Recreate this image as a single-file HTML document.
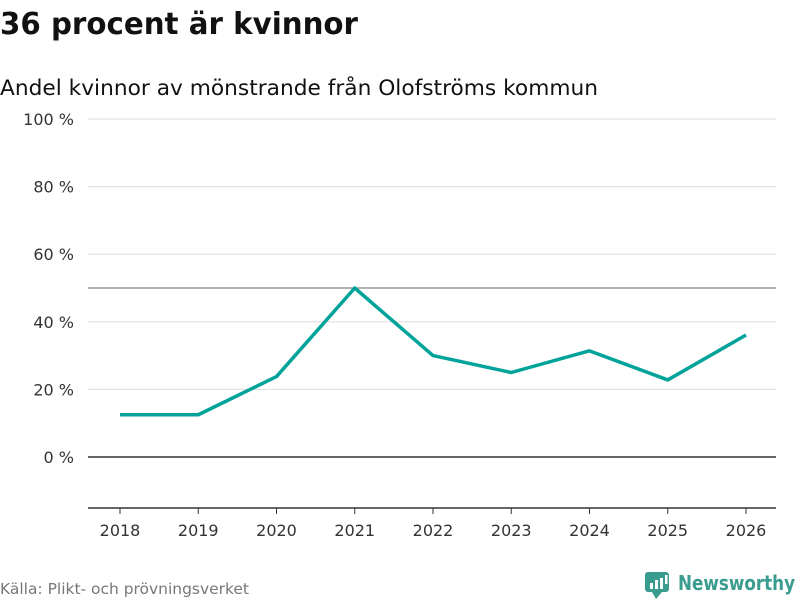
<!DOCTYPE html>
<html><head><meta charset="utf-8"><style>
body{margin:0;background:#fff;font-family:"DejaVu Sans","Liberation Sans",sans-serif;}
</style></head><body>
<svg width="800" height="600" xmlns="http://www.w3.org/2000/svg">
<text x="0" y="34" font-size="30" font-weight="bold" fill="#111" textLength="358" lengthAdjust="spacingAndGlyphs">36 procent är kvinnor</text>
<text x="0" y="95" font-size="21" fill="#111" textLength="598" lengthAdjust="spacingAndGlyphs">Andel kvinnor av mönstrande från Olofströms kommun</text>
<g id="grid"></g>
<g id="xaxis"></g>
<path id="line" fill="none" stroke="#00a399" stroke-width="3.5" stroke-linejoin="round"/>
<text x="0" y="594" font-size="15" fill="#777" textLength="249" lengthAdjust="spacingAndGlyphs">Källa: Plikt- och prövningsverket</text>
<g>
<rect x="645" y="572" width="24" height="20" rx="3" fill="#3a9c8f"/>
<polygon points="652,592 662,592 656,599" fill="#3a9c8f"/>
<rect x="650" y="583" width="3" height="6" fill="#fff"/><rect x="655" y="580" width="3" height="9" fill="#fff"/><rect x="660" y="578" width="3" height="11" fill="#fff"/><rect x="665" y="575" width="2.5" height="9" fill="#fff"/>
<text x="678" y="590" font-size="20" font-weight="bold" fill="#3a9c8f" textLength="117" lengthAdjust="spacingAndGlyphs">Newsworthy</text>
</g>
</svg>
<script>
const years=["2018","2019","2020","2021","2022","2023","2024","2025","2026"];
const values=[12.5,12.5,23.8,50,30,25,31.4,22.8,36.1];
const yTicks=[0,20,40,60,80,100];
const ns="http://www.w3.org/2000/svg";
const x=i=>120+i*(746-120)/(years.length-1);
const y=v=>457-v*3.38;
function mk(t,a,p){const e=document.createElementNS(ns,t);for(const k in a)e.setAttribute(k,a[k]);p.appendChild(e);return e;}
const g=document.getElementById('grid');
yTicks.forEach(v=>{
 const l=mk('line',{x1:88,x2:776,y1:y(v),y2:y(v),stroke:v===0?'#333':'#ddd','stroke-width':v===0?1.5:1},g);
 
 
 const t=mk('text',{x:74,y:y(v)+6,'text-anchor':'end','font-size':16,fill:'#333'},g);
 t.textContent=v+' %';
 
 
});
const r=mk('line',{x1:88,x2:776,y1:y(50),y2:y(50),stroke:'#666','stroke-width':1},g);


const xa=document.getElementById('xaxis');
mk('line',{x1:88,x2:776,y1:508,y2:508,stroke:'#333','stroke-width':1.5},xa);
years.forEach((yr,i)=>{
 mk('line',{x1:x(i),x2:x(i),y1:508,y2:514,stroke:'#333'},xa);
 const t=mk('text',{x:x(i),y:536,'text-anchor':'middle','font-size':16,fill:'#333'},xa);
 t.textContent=yr;
 
 
});
document.getElementById('line').setAttribute('d',values.map((v,i)=>(i?'L':'M')+x(i)+','+y(v)).join(''));
</script>
</body></html>
